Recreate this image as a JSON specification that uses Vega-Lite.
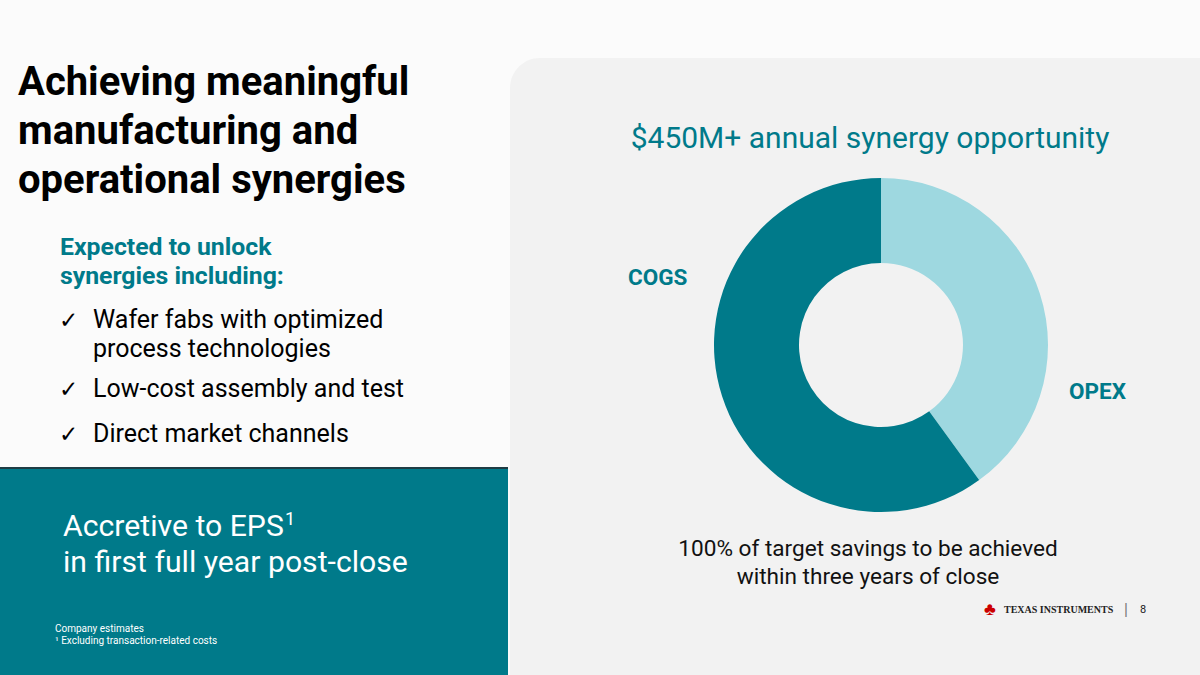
{
  "$schema": "https://vega.github.io/schema/vega-lite/v6.json",
  "width": 1200,
  "height": 675,
  "padding": 0,
  "autosize": {"type": "fit", "contains": "padding"},
  "background": "#FBFBFB",
  "config": {"view": {"stroke": null}, "font": "Roboto"},
  "layer": [
    {
      "data": {"values": [{}]},
      "mark": {"type": "rect", "x": 510, "y": 58, "x2": 1200, "y2": 675, "color": "#F2F2F2", "cornerRadiusTopLeft": 30}
    },
    {
      "data": {"values": [{}]},
      "mark": {"type": "rect", "x": 0, "y": 467, "x2": 508, "y2": 675, "color": "#1E3C44"}
    },
    {
      "data": {"values": [{}]},
      "mark": {"type": "rect", "x": 0, "y": 469, "x2": 508, "y2": 675, "color": "#007A8A"}
    },
    {
      "data": {"values": [
        {"category": "OPEX", "value": 40},
        {"category": "COGS", "value": 60}
      ]},
      "mark": {"type": "arc", "x": 881, "y": 345, "outerRadius": 167, "innerRadius": 82},
      "encoding": {
        "theta": {"field": "value", "type": "quantitative", "stack": true},
        "order": {"field": "value", "sort": "ascending"},
        "color": {"field": "category", "type": "nominal", "legend": null,
          "scale": {"domain": ["OPEX", "COGS"], "range": ["#9ED8E0", "#007A8A"]}}
      }
    },
    {
      "data": {"values": [{}]},
      "mark": {"type": "text", "x": 18, "y": 95, "align": "left", "baseline": "alphabetic", "fontSize": 40, "fontWeight": "bold", "color": "#000000", "lineHeight": 49,
        "text": ["Achieving meaningful", "manufacturing and", "operational synergies"]}
    },
    {
      "data": {"values": [{}]},
      "mark": {"type": "text", "x": 60, "y": 255, "align": "left", "baseline": "alphabetic", "fontSize": 24.8, "fontWeight": "bold", "color": "#007A8A", "lineHeight": 29,
        "text": ["Expected to unlock", "synergies including:"]}
    },
    {
      "data": {"values": [{"t": "✓", "y": 328}, {"t": "✓", "y": 397}, {"t": "✓", "y": 442}]},
      "mark": {"type": "text", "x": 59, "align": "left", "baseline": "alphabetic", "fontSize": 23, "font": "DejaVu Sans", "color": "#000000"},
      "encoding": {"text": {"field": "t"}, "y": {"field": "y", "type": "quantitative", "scale": null}}
    },
    {
      "data": {"values": [{}]},
      "mark": {"type": "text", "x": 93, "y": 328, "align": "left", "baseline": "alphabetic", "fontSize": 25, "color": "#000000", "lineHeight": 29,
        "text": ["Wafer fabs with optimized", "process technologies"]}
    },
    {
      "data": {"values": [{}]},
      "mark": {"type": "text", "x": 93, "y": 397, "align": "left", "baseline": "alphabetic", "fontSize": 25, "color": "#000000", "text": "Low-cost assembly and test"}
    },
    {
      "data": {"values": [{}]},
      "mark": {"type": "text", "x": 93, "y": 442, "align": "left", "baseline": "alphabetic", "fontSize": 25, "color": "#000000", "text": "Direct market channels"}
    },
    {
      "data": {"values": [{}]},
      "mark": {"type": "text", "x": 63, "y": 536, "align": "left", "baseline": "alphabetic", "fontSize": 30.2, "color": "#FFFFFF", "lineHeight": 36,
        "text": ["Accretive to EPS", "in first full year post-close"]}
    },
    {
      "data": {"values": [{}]},
      "mark": {"type": "text", "x": 285, "y": 525, "align": "left", "baseline": "alphabetic", "fontSize": 18, "color": "#FFFFFF", "text": "1"}
    },
    {
      "data": {"values": [{}]},
      "mark": {"type": "text", "x": 55, "y": 632, "align": "left", "baseline": "alphabetic", "fontSize": 10, "color": "#FFFFFF", "lineHeight": 12,
        "text": ["Company estimates", "¹ Excluding transaction-related costs"]}
    },
    {
      "data": {"values": [{}]},
      "mark": {"type": "text", "x": 870, "y": 148, "align": "center", "baseline": "alphabetic", "fontSize": 30, "color": "#007A8A", "text": "$450M+ annual synergy opportunity"}
    },
    {
      "data": {"values": [{"label": "COGS", "lx": 628, "ly": 285}, {"label": "OPEX", "lx": 1069, "ly": 399}]},
      "mark": {"type": "text", "align": "left", "baseline": "alphabetic", "fontSize": 22.5, "fontWeight": "bold", "color": "#007A8A"},
      "encoding": {
        "text": {"field": "label"},
        "x": {"field": "lx", "type": "quantitative", "scale": null},
        "y": {"field": "ly", "type": "quantitative", "scale": null}
      }
    },
    {
      "data": {"values": [{}]},
      "mark": {"type": "text", "x": 868, "y": 556, "align": "center", "baseline": "alphabetic", "fontSize": 22.6, "color": "#111111", "lineHeight": 28,
        "text": ["100% of target savings to be achieved", "within three years of close"]}
    },
    {
      "data": {"values": [{}]},
      "mark": {"type": "text", "x": 990, "y": 615, "align": "center", "baseline": "alphabetic", "fontSize": 18, "fontWeight": "bold", "color": "#CC0000", "text": "♣"}
    },
    {
      "data": {"values": [{}]},
      "mark": {"type": "text", "x": 1004, "y": 613, "align": "left", "baseline": "alphabetic", "fontSize": 10, "fontWeight": "bold", "font": "Liberation Serif", "color": "#222222", "text": "TEXAS INSTRUMENTS"}
    },
    {
      "data": {"values": [{}]},
      "mark": {"type": "text", "x": 1126, "y": 615, "align": "center", "baseline": "alphabetic", "fontSize": 16, "color": "#777777", "text": "|"}
    },
    {
      "data": {"values": [{}]},
      "mark": {"type": "text", "x": 1140, "y": 613, "align": "left", "baseline": "alphabetic", "fontSize": 11, "color": "#222222", "text": "8"}
    }
  ]
}
